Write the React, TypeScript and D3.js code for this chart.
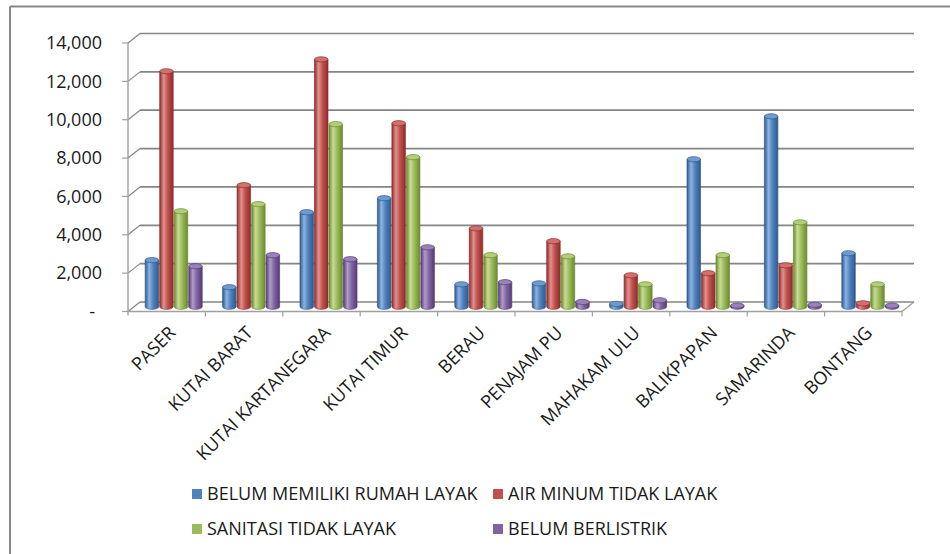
import React from "react";
import * as d3 from "d3";

const categories = [
  "PASER",
  "KUTAI BARAT",
  "KUTAI KARTANEGARA",
  "KUTAI TIMUR",
  "BERAU",
  "PENAJAM PU",
  "MAHAKAM ULU",
  "BALIKPAPAN",
  "SAMARINDA",
  "BONTANG",
];

const seriesNames = [
  "BELUM MEMILIKI RUMAH LAYAK",
  "AIR MINUM TIDAK LAYAK",
  "SANITASI TIDAK LAYAK",
  "BELUM BERLISTRIK",
];

const rumahLayak = [2430, 1020, 4930, 5660, 1170, 1220, 150, 7690, 9930, 2790];
const airMinum = [12280, 6340, 12900, 9570, 4090, 3420, 1640, 1750, 2160, 180];
const sanitasi = [4980, 5350, 9520, 7800, 2690, 2630, 1170, 2690, 4400, 1170];
const listrik = [2110, 2690, 2480, 3100, 1280, 250, 340, 60, 100, 60];

const seriesValues = [rumahLayak, airMinum, sanitasi, listrik];

const yTicks = [0, 2000, 4000, 6000, 8000, 10000, 12000, 14000];

const palette = [
  { base: "#4F81BD", light: "#8DB3E2", dark: "#2F5A8E", top: "#6F9BD3" },
  { base: "#C0504D", light: "#E3908E", dark: "#8C2E2B", top: "#D3706D" },
  { base: "#9BBB59", light: "#C7DC98", dark: "#6B8A30", top: "#B2CF77" },
  { base: "#8064A2", light: "#B09CCB", dark: "#553D75", top: "#9981BB" },
];

const FONT = "'Open Sans', 'Noto Sans', sans-serif";

export default function App() {
  const W = 950;
  const H = 554;
  const X0F = 128;
  const X1F = 902;
  const DX = 12;
  const DY = 9.5;

  const yFront = d3.scaleLinear().domain([0, 14000]).range([311.5, 43]);
  const yBack = (v: number) => yFront(v) - DY;
  const yMid = (v: number) => yFront(v) - DY / 2;

  const xBand = d3.scaleBand<string>().domain(categories).range([X0F, X1F]).padding(0);
  const inner = d3
    .scaleBand<number>()
    .domain([0, 1, 2, 3])
    .range([-28.5, 28.5])
    .paddingInner(0.07);

  const fmt = (v: number) => (v === 0 ? "-" : d3.format(",")(v));
  const ry = 2.6;
  const gridColor = "#858585";

  return (
    <svg
      width={W}
      height={H}
      style={{ position: "absolute", left: 0, top: 0, background: "#fff" }}
      fontFamily={FONT}
    >
      <defs>
        {palette.map((p, i) => (
          <linearGradient key={i} id={`cyl${i}`} x1="0" x2="1" y1="0" y2="0">
            <stop offset="0%" stopColor={p.dark} />
            <stop offset="30%" stopColor={p.light} />
            <stop offset="60%" stopColor={p.base} />
            <stop offset="100%" stopColor={p.dark} />
          </linearGradient>
        ))}
      </defs>

      {/* outer border */}
      <line x1={10} x2={10} y1={6.5} y2={H} stroke="#878787" strokeWidth={2} />
      <line x1={10} x2={W} y1={6.5} y2={6.5} stroke="#878787" strokeWidth={2} />

      {/* back wall gridlines */}
      {yTicks.map((t) => (
        <g key={t}>
          <line
            x1={X0F + DX}
            x2={X1F + DX}
            y1={yBack(t)}
            y2={yBack(t)}
            stroke={gridColor}
            strokeWidth={1.7}
          />
          <line
            x1={X0F}
            x2={X0F + DX}
            y1={yFront(t)}
            y2={yBack(t)}
            stroke={gridColor}
            strokeWidth={1.2}
          />
          <line
            x1={X0F - 6}
            x2={X0F}
            y1={yFront(t)}
            y2={yFront(t)}
            stroke="#a0a0a0"
            strokeWidth={1.2}
          />
          <text
            x={t === 0 ? 95 : 102}
            y={yFront(t)}
            dy="0.35em"
            textAnchor="end"
            fontSize={18}
            fill="#1a1a1a"
          >
            {fmt(t)}
          </text>
        </g>
      ))}

      {/* floor */}
      <line x1={X0F} x2={X1F} y1={yFront(0)} y2={yFront(0)} stroke="#a0a0a0" strokeWidth={1.4} />
      <line
        x1={X1F}
        x2={X1F + DX}
        y1={yFront(0)}
        y2={yBack(0)}
        stroke="#a0a0a0"
        strokeWidth={1.4}
      />
      {/* value axis */}
      <line
        x1={X0F}
        x2={X0F}
        y1={yFront(14000)}
        y2={yFront(0) + 4}
        stroke="#a0a0a0"
        strokeWidth={1.4}
      />
      {/* category ticks */}
      {categories.map((c) => (
        <line
          key={c}
          x1={(xBand(c) as number) + xBand.bandwidth()}
          x2={(xBand(c) as number) + xBand.bandwidth()}
          y1={yFront(0)}
          y2={yFront(0) + 5}
          stroke="#a0a0a0"
          strokeWidth={1.2}
        />
      ))}

      {/* bars */}
      {categories.map((c, ci) => {
        const cx = (xBand(c) as number) + xBand.bandwidth() / 2 + DX / 2 + 1;
        return (
          <g key={c}>
            {seriesValues.map((vals, si) => {
              const p = palette[si];
              const x = cx + (inner(si) as number);
              const w = inner.bandwidth();
              const rx = w / 2;
              const yt = yMid(vals[ci]);
              const yb = yMid(0);
              const body = `M${x},${yt} L${x},${yb} A${rx},${ry} 0 0 0 ${x + w},${yb} L${x + w},${yt} Z`;
              return (
                <g key={si}>
                  <path d={body} fill={`url(#cyl${si})`} stroke={p.dark} strokeWidth={0.7} />
                  <ellipse
                    cx={x + rx}
                    cy={yt}
                    rx={rx}
                    ry={ry}
                    fill={p.top}
                    stroke={p.dark}
                    strokeWidth={0.7}
                  />
                </g>
              );
            })}
          </g>
        );
      })}

      {/* category labels */}
      {categories.map((c) => {
        const cx = (xBand(c) as number) + xBand.bandwidth() / 2;
        return (
          <text
            key={c}
            transform={`translate(${cx + 10},${334}) rotate(-45)`}
            textAnchor="end"
            fontSize={18}
            fill="#1a1a1a"
          >
            {c}
          </text>
        );
      })}

      {/* legend */}
      {seriesNames.map((s, i) => {
        const col = i % 2;
        const row = Math.floor(i / 2);
        const lx = col === 0 ? 192 : 493;
        const ly = 489 + row * 35;
        return (
          <g key={s}>
            <rect x={lx} y={ly} width={10} height={10} fill={palette[i].base} />
            <text x={lx + 15} y={ly + 11} fontSize={18} fill="#1a1a1a">
              {s}
            </text>
          </g>
        );
      })}
    </svg>
  );
}
